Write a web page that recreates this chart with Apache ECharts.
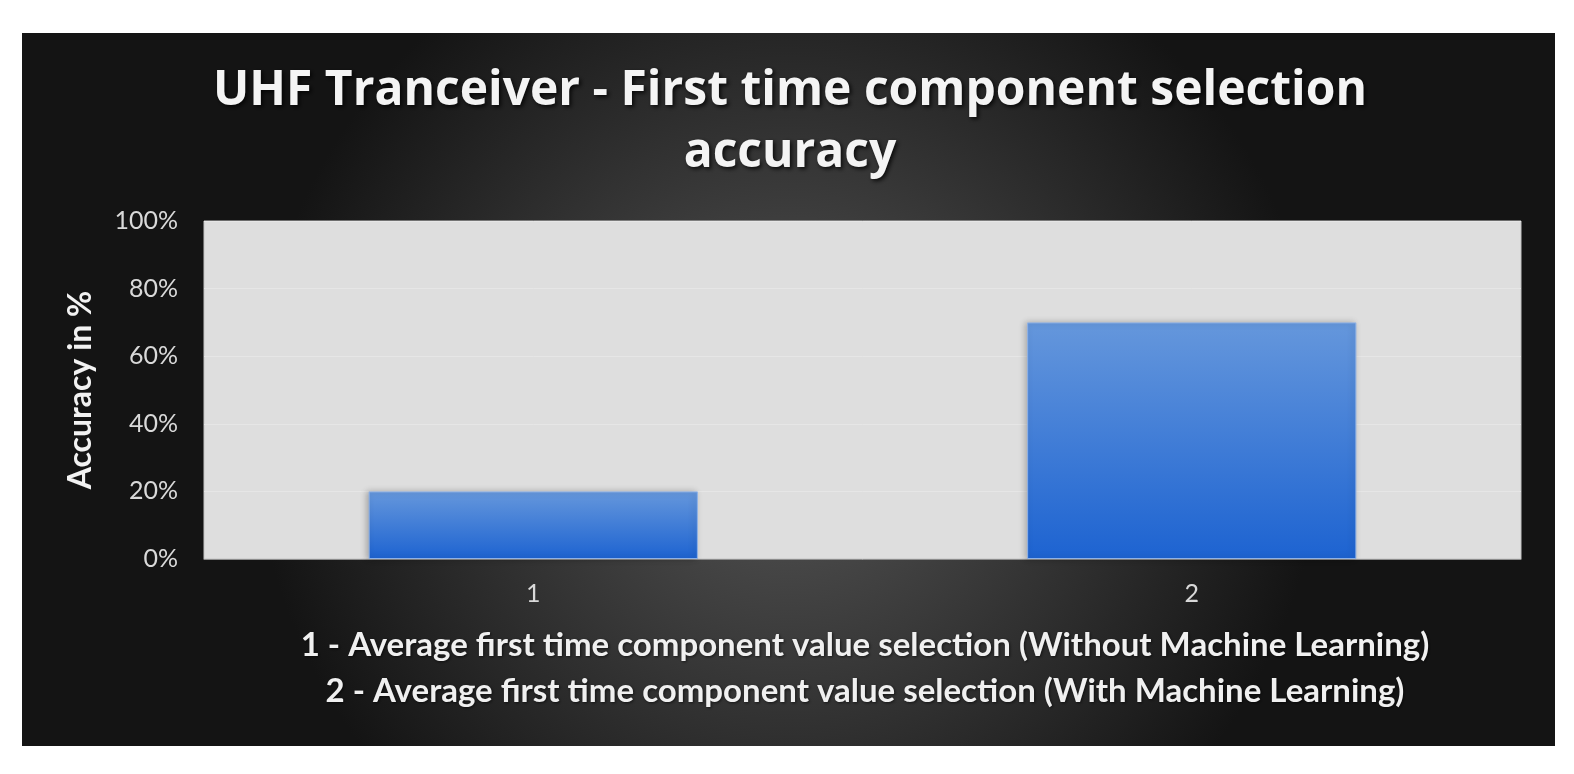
<!DOCTYPE html>
<html>
<head>
<meta charset="utf-8">
<script src="https://cdn.jsdelivr.net/npm/echarts@6/dist/echarts.min.js"></script>
<style>
  html, body { margin: 0; padding: 0; background: #fff; }
  #chart { width: 1574px; height: 774px; }
</style>
</head>
<body>
<div id="chart"></div>
<script>
// 数据
var categories = ['1', '2'];
var accuracyValues = [20, 70];
var legendLines = [
    '1 - Average first time component value selection (Without Machine Learning)',
    '2 - Average first time component value selection (With Machine Learning)'
];

var ff = 'Lato, "Open Sans", sans-serif';
var myChart = echarts.init(document.getElementById('chart'));

var option = {
    backgroundColor: '#ffffff',
    animation: false,
    graphic: [
        {
            type: 'rect',
            z: -10,
            silent: true,
            shape: {x: 22, y: 33, width: 1533, height: 713},
            style: {
                fill: new echarts.graphic.RadialGradient(0.5, 0.55, 0.75, [
                    {offset: 0, color: '#575757'},
                    {offset: 1, color: '#141414'}
                ])
            }
        }
    ],
    title: [
        {
            text: 'UHF Tranceiver - First time component selection\naccuracy',
            left: 785,
            top: 55,
            textAlign: 'center',
            textStyle: {
                color: '#f4f4f4',
                fontFamily: '"Open Sans", Lato, sans-serif',
                fontWeight: 'bold',
                fontSize: 48,
                lineHeight: 62,
                textShadowColor: 'rgba(0,0,0,0.8)',
                textShadowBlur: 4,
                textShadowOffsetX: 2,
                textShadowOffsetY: 2
            }
        },
        {
            text: legendLines.join('\n'),
            left: 860,
            top: 617,
            textAlign: 'center',
            textStyle: {
                color: '#f0f0f0',
                fontFamily: ff,
                fontWeight: 'bold',
                fontSize: 33,
                lineHeight: 46,
                textShadowColor: 'rgba(0,0,0,0.6)',
                textShadowBlur: 3,
                textShadowOffsetX: 1,
                textShadowOffsetY: 1
            }
        }
    ],
    grid: {
        left: 204,
        top: 221,
        width: 1317,
        height: 338,
        show: true,
        backgroundColor: '#dedede',
        borderColor: '#c4c4c4',
        borderWidth: 1
    },
    xAxis: {
        type: 'category',
        data: categories,
        axisLine: {show: true, lineStyle: {color: '#8c8c8c', width: 1}},
        axisTick: {show: false},
        axisLabel: {
            color: '#d9d9d9',
            fontFamily: ff,
            fontSize: 25,
            margin: 22
        },
        splitLine: {show: false}
    },
    yAxis: {
        type: 'value',
        min: 0,
        max: 100,
        interval: 20,
        name: 'Accuracy in %',
        nameLocation: 'middle',
        nameGap: 107,
        nameTextStyle: {
            color: '#f2f2f2',
            fontFamily: ff,
            fontWeight: 'bold',
            fontSize: 32
        },
        axisLine: {show: false},
        axisTick: {show: false},
        axisLabel: {
            formatter: '{value}%',
            color: '#d9d9d9',
            fontFamily: ff,
            fontSize: 25,
            margin: 26
        },
        splitLine: {show: true, lineStyle: {color: '#e6e6e6', width: 1}}
    },
    series: [
        {
            type: 'bar',
            data: accuracyValues,
            barWidth: '50%',
            itemStyle: {
                color: new echarts.graphic.LinearGradient(0, 0, 0, 1, [
                    {offset: 0, color: '#6597dc'},
                    {offset: 1, color: '#1d63d1'}
                ]),
                borderColor: '#8fb2e6',
                borderWidth: 1,
                shadowColor: 'rgba(0,0,0,0.25)',
                shadowBlur: 6,
                shadowOffsetX: -2
            }
        }
    ]
};

myChart.setOption(option);
</script>
</body>
</html>
